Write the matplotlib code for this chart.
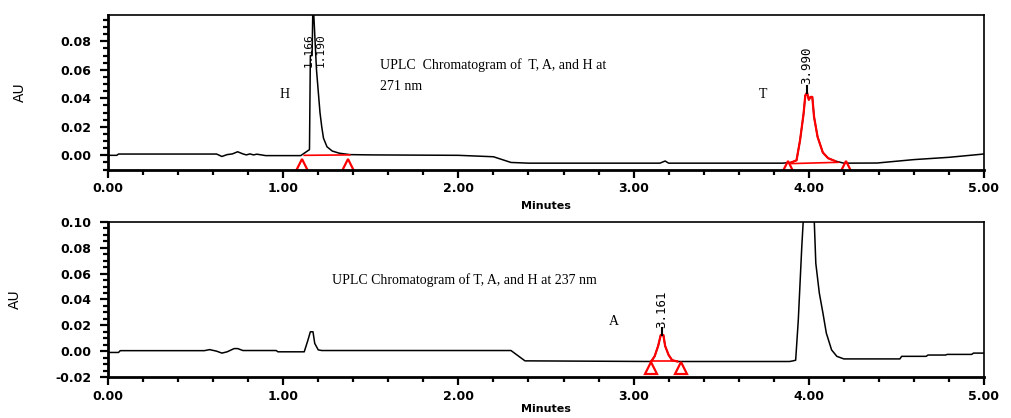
import numpy as np
import matplotlib
matplotlib.use("Agg")
import matplotlib.pyplot as plt
from matplotlib.ticker import MultipleLocator, FormatStrFormatter

# 271 nm trace (minutes, AU)
top_t = [0.00, 0.05, 0.06, 0.62, 0.65, 0.68, 0.71, 0.74, 0.77, 0.79, 0.81, 0.83, 0.85, 0.90,
         1.10, 1.150, 1.155, 1.160, 1.165, 1.170, 1.180, 1.190, 1.200, 1.210, 1.220, 1.230,
         1.250, 1.280, 1.320, 1.380, 1.500, 2.000, 2.200, 2.250, 2.300, 2.400, 3.150, 3.180,
         3.200, 3.850, 3.900, 3.930, 3.950, 3.970, 3.980, 3.990, 4.000, 4.010, 4.020, 4.030,
         4.050, 4.080, 4.110, 4.150, 4.200, 4.390, 4.600, 4.800, 4.980, 5.000]
top_au = [0.0000, 0.0000, 0.0009, 0.0009, -0.0008, 0.0005, 0.0010, 0.0025, 0.0010, 0.0003, 0.0010,
          0.0003, 0.0008, -0.0002, -0.0002, 0.0040, 0.0700, 0.0700, 0.0700, 0.1100, 0.0850,
          0.0600, 0.0450, 0.0300, 0.0200, 0.0120, 0.0060, 0.0030, 0.0015, 0.0005, 0.0003,
          0.0000, -0.0010, -0.0030, -0.0050, -0.0055, -0.0055, -0.0040, -0.0055, -0.0055,
          -0.0050, -0.0035, 0.0105, 0.0290, 0.0420, 0.0440, 0.0390, 0.0410, 0.0410, 0.0270,
          0.0130, 0.0020, -0.0020, -0.0040, -0.0055, -0.0054, -0.0030, -0.0014, 0.0007, 0.0010]

# 237 nm trace
bot_t = [0.00, 0.06, 0.07, 0.55, 0.58, 0.62, 0.65, 0.68, 0.72, 0.74, 0.77, 0.96, 0.97, 1.12,
         1.14, 1.155, 1.17, 1.18, 1.20, 1.22, 2.30, 2.38, 3.10, 3.12, 3.14, 3.155, 3.17, 3.18,
         3.20, 3.22, 3.25, 3.89, 3.91, 3.925, 3.94, 3.96, 3.97, 4.00, 4.03, 4.04, 4.06, 4.08,
         4.10, 4.13, 4.16, 4.20, 4.52, 4.53, 4.67, 4.68, 4.78, 4.79, 4.93, 4.94, 5.00]
bot_au = [-0.0010, -0.0010, 0.0004, 0.0004, 0.0012, 0.0000, -0.0015, -0.0005, 0.0020, 0.0020,
          0.0005, 0.0005, -0.0005, -0.0005, 0.0080, 0.0150, 0.0150, 0.0060, 0.0010, 0.0005,
          0.0005, -0.0075, -0.0080, -0.0040, 0.0040, 0.0125, 0.0125, 0.0040, -0.0030, -0.0070,
          -0.0080, -0.0080, -0.0075, -0.0070, 0.0240, 0.0810, 0.1050, 0.3000, 0.1050, 0.0680,
          0.0450, 0.0300, 0.0140, 0.0010, -0.0040, -0.0060, -0.0060, -0.0040, -0.0040, -0.0030,
          -0.0030, -0.0025, -0.0025, -0.0015, -0.0015]

# integration marks (red)
top_h_base_t = [1.12, 1.38]
top_h_base_au = [0.0000, 0.0003]
top_h_tri_t = [1.11, 1.37]
top_t_base_t = [3.90, 4.17]
top_t_base_au = [-0.0058, -0.0049]
top_t_tri_t = [3.88, 4.21]
top_red_span = (3.89, 4.18)
bot_a_base_t = [3.10, 3.25]
bot_a_base_au = [-0.0080, -0.0080]
bot_a_tri_t = [3.10, 3.27]
bot_red_span = (3.10, 3.25)

# retention time labels
top_labels = [("1.166", 1.143, 0.062), ("1.190", 1.212, 0.062), ("3.990", 3.99, 0.050)]
bot_labels = [("3.161", 3.16, 0.018)]

W, H = 1012, 418
fig = plt.figure(figsize=(W / 100, H / 100), dpi=100)
ax1 = fig.add_axes([108 / W, 1 - 170 / H, 876 / W, 155 / H])
ax2 = fig.add_axes([108 / W, 1 - 377 / H, 876 / W, 155 / H])

tick_font = dict(family="DejaVu Sans", size=9, weight="bold")
serif = "Liberation Serif"


def style_axes(ax, ylim, xlabelpad):
    ax.set_xlim(0, 5)
    ax.set_ylim(*ylim)
    ax.xaxis.set_major_locator(MultipleLocator(1.0))
    ax.xaxis.set_minor_locator(MultipleLocator(0.2))
    ax.yaxis.set_major_locator(MultipleLocator(0.02))
    ax.yaxis.set_minor_locator(MultipleLocator(0.005))
    ax.xaxis.set_major_formatter(FormatStrFormatter("%.2f"))
    ax.yaxis.set_major_formatter(FormatStrFormatter("%.2f"))
    ax.tick_params(which="major", direction="out", length=6, width=1.6, pad=6)
    ax.tick_params(axis="x", which="major", pad=3)
    ax.tick_params(which="minor", direction="out", length=3.5, width=1.6)
    for lab in ax.get_xticklabels() + ax.get_yticklabels():
        lab.set_fontfamily(tick_font["family"])
        lab.set_fontsize(tick_font["size"])
        lab.set_fontweight(tick_font["weight"])
    for sp in ax.spines.values():
        sp.set_linewidth(1.2)
    ax.spines["left"].set_linewidth(2.0)
    ax.spines["bottom"].set_linewidth(2.0)
    ax.set_xlabel("Minutes", fontsize=8, fontweight="bold", labelpad=xlabelpad)
    ax.set_ylabel("AU", fontsize=10, labelpad=24)


# top panel: 271 nm
style_axes(ax1, (-0.0103, 0.0985), 4)
ax1.plot(top_t, top_au, color="black", lw=1.1)
tt = np.array(top_t)
ta = np.array(top_au)
sel = (tt >= top_red_span[0]) & (tt <= top_red_span[1])
ax1.plot(tt[sel], ta[sel], color="red", lw=1.6)
ax1.plot(top_h_base_t, top_h_base_au, color="red", lw=1.2)
ax1.plot(top_t_base_t, top_t_base_au, color="red", lw=1.2)
ax1.plot(top_h_tri_t, [-0.0068, -0.0068], ls="none", marker="^", ms=9,
         mfc="none", mec="red", mew=1.6)
ax1.plot(top_t_tri_t, [-0.0085, -0.0085], ls="none", marker="^", ms=9,
         mfc="none", mec="red", mew=1.6)
for txt, x, y in top_labels:
    fs = 8 if x < 2 else 9
    ax1.text(x, y, txt, rotation=90, ha="center", va="bottom", fontsize=fs,
             family="DejaVu Sans Mono")
ax1.plot([3.99, 3.99], [0.044, 0.049], color="black", lw=1.5)

ax1.text(1.01, 0.043, "H", family=serif, fontsize=10, ha="center", va="center")
ax1.text(3.74, 0.043, "T", family=serif, fontsize=10, ha="center", va="center")
ax1.text(1.55, 0.063, "UPLC  Chromatogram of  T, A, and H at", family=serif,
         fontsize=10, ha="left", va="center")
ax1.text(1.55, 0.048, "271 nm", family=serif, fontsize=10, ha="left", va="center")

# bottom panel: 237 nm
style_axes(ax2, (-0.02, 0.10), 1)
ax2.plot(bot_t, bot_au, color="black", lw=1.1)
bt = np.array(bot_t)
ba = np.array(bot_au)
sel = (bt >= bot_red_span[0]) & (bt <= bot_red_span[1])
ax2.plot(bt[sel], ba[sel], color="red", lw=1.6)
ax2.plot(bot_a_base_t, bot_a_base_au, color="red", lw=1.2)
ax2.plot(bot_a_tri_t, [-0.0130, -0.0130], ls="none", marker="^", ms=9,
         mfc="none", mec="red", mew=1.6)
for txt, x, y in bot_labels:
    ax2.text(x, y, txt, rotation=90, ha="center", va="bottom", fontsize=9,
             family="DejaVu Sans Mono")
ax2.plot([3.16, 3.16], [0.0125, 0.018], color="black", lw=1.5)

ax2.text(1.28, 0.055, "UPLC Chromatogram of T, A, and H at 237 nm", family=serif,
         fontsize=10, ha="left", va="center")
ax2.text(2.89, 0.023, "A", family=serif, fontsize=10, ha="center", va="center")

fig.savefig("out.png", dpi=100)
